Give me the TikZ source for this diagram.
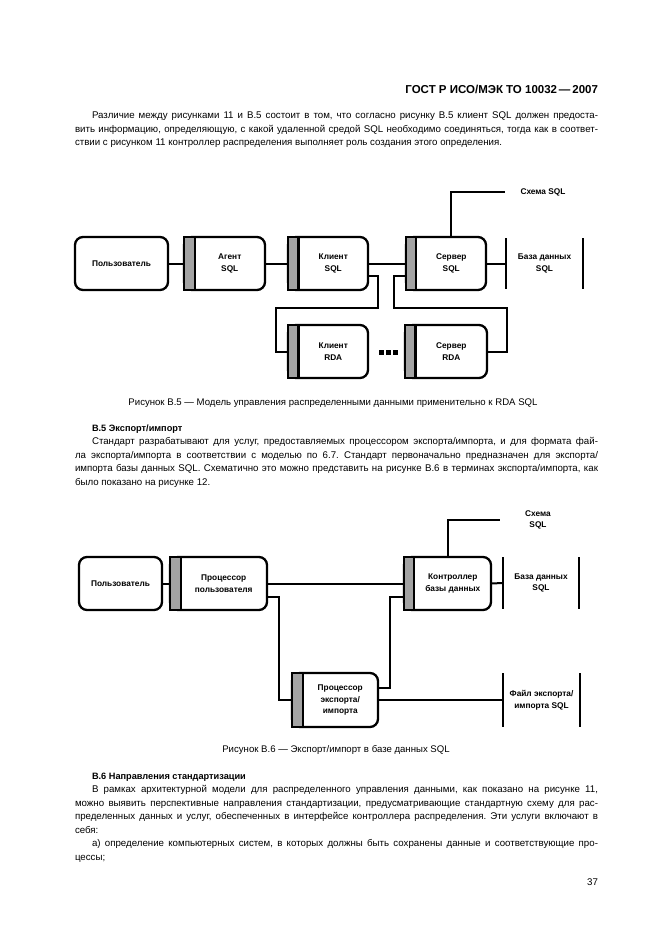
\documentclass[tikz,border=0pt]{standalone}
\usepackage{fontspec}
\setmainfont{Liberation Sans}
\frenchspacing
\definecolor{barg}{gray}{0.64}
\newcommand\pd{\hspace*{10.5pt}}
\newcommand\mkbar[2]{\draw[bar] (#1.north west) rectangle ([xshift=#2pt]#1.south west);}
\newcommand\jl[3]{\node[body] at (#1,#2) {\makebox[\dimexpr598pt-#1pt\relax][s]{#3}};}
\newcommand\pl[3]{\node[body] at (#1,#2) {#3};}
\begin{document}
\begin{tikzpicture}[x=1pt,y=-1pt,
  every node/.style={inner sep=0pt,outer sep=0pt},
  body/.style={anchor=base west,font=\fontsize{9.7}{12}\selectfont},
  captext/.style={anchor=base,font=\fontsize{9.6}{12}\selectfont},
  head/.style={anchor=base west,font=\fontsize{9.2}{12}\selectfont\bfseries},
  lbl/.style={font=\fontsize{8.3}{11.8}\selectfont\bfseries,align=center},
  rbox/.style={lbl,draw,line width=2.3pt,rounded corners=8pt,anchor=north west},
  bar/.style={fill=barg,draw,line width=2.3pt},
  conn/.style={line width=2pt},
  store/.style={lbl,anchor=north west,minimum height=51pt},
  sline/.style={line width=2.3pt},
]
\fill[white] (0,0) rectangle (661,936);
\useasboundingbox (0,0) rectangle (661,936);

% ---- header and first paragraph
\node[anchor=base east,font=\fontsize{11.5}{13}\selectfont\bfseries] (hdr) at (598,94) {ГОСТ Р ИСО/МЭК ТО 10032\,—\,2007};
\jl{92}{119}{Различие между рисунками 11 и В.5 состоит в том, что согласно рисунку В.5 клиент SQL должен предоста-}
\jl{75}{132.5}{вить информацию, определяющую, с какой удаленной средой SQL необходимо соединяться, тогда как в соответ-}
\pl{75}{146}{ствии с рисунком 11 контроллер распределения выполняет роль создания этого определения.}

% ---- Figure B.5
\node[rbox,minimum width=93pt,minimum height=53pt] (user) at (75,237) {Пользователь};
\node[rbox,minimum width=81pt,minimum height=53pt] (agent) at (184,237) {\pd Агент\\\pd SQL};
\node[rbox,minimum width=80pt,minimum height=53pt] (client) at (288,237) {\pd Клиент\\\pd SQL};
\node[rbox,minimum width=80pt,minimum height=53pt] (server) at (406,237) {\pd Сервер\\\pd SQL};
\node[rbox,minimum width=80pt,minimum height=53pt] (crda) at (288,325) {\pd Клиент\\\pd RDA};
\node[rbox,minimum width=82pt,minimum height=53pt] (srda) at (405,325) {\pd Сервер\\\pd RDA};
\mkbar{agent}{11}
\mkbar{client}{10.5}
\mkbar{server}{10}
\mkbar{crda}{10.5}
\mkbar{srda}{10.5}
\node[store,minimum width=77pt] (db) at (506,238) {База данных\\SQL};
\draw[sline] (db.north west) -- (db.south west) (db.north east) -- (db.south east);
\node[lbl,anchor=west,minimum width=76pt] (schema) at (505,192) {Схема SQL};

\draw[conn] (user.east) -- (agent.west);
\draw[conn] (agent.east) -- (client.west);
\draw[conn] (client.east) -- (server.west);
\draw[conn] (server.east) -- (db.west);
\draw[conn] ([xshift=45pt]server.north west) |- (schema.west);
\draw[conn] ([yshift=-12pt]client.east) -| ([xshift=10pt,yshift=-44pt]client.east)
  -| ([xshift=-12pt]crda.west) -- (crda.west);
\draw[conn] ([yshift=-12pt]server.west) -| ([xshift=-12pt,yshift=-44pt]server.west)
  -| ([xshift=20pt]srda.east) -- (srda.east);
\fill (379,350) rectangle ++(4.5,4.5);
\fill (386,350) rectangle ++(4.5,4.5);
\fill (393,350) rectangle ++(4.5,4.5);

\node[captext] (capA) at (333,405) {Рисунок В.5 — Модель управления распределенными данными применительно к RDA SQL};

% ---- Section B.5
\node[head] (hA) at (92,431) {В.5 Экспорт/импорт};
\jl{92}{444.5}{Стандарт разрабатывают для услуг, предоставляемых процессором экспорта/импорта, и для формата фай-}
\jl{75}{458}{ла экспорта/импорта в соответствии с моделью по 6.7. Стандарт первоначально предназначен для экспорта/}
\jl{75}{471.5}{импорта базы данных SQL. Схематично это можно представить на рисунке В.6 в терминах экспорта/импорта, как}
\pl{75}{485}{было показано на рисунке 12.}

% ---- Figure B.6
\node[rbox,minimum width=83pt,minimum height=53pt] (user2) at (79,557) {Пользователь};
\node[rbox,minimum width=97pt,minimum height=53pt] (uproc) at (170,557) {\pd Процессор\\\pd пользователя};
\node[rbox,minimum width=87pt,minimum height=53pt] (ctrl) at (404,557) {\pd Контроллер\\\pd базы данных};
\node[rbox,minimum width=86pt,minimum height=54pt] (eproc) at (292,673) {\pd Процессор\\\pd экспорта/\\\pd импорта};
\mkbar{uproc}{11}
\mkbar{ctrl}{10}
\mkbar{eproc}{11}
\node[store,minimum width=76pt,minimum height=52pt] (db2) at (503,557) {База данных\\SQL};
\draw[sline] (db2.north west) -- (db2.south west) (db2.north east) -- (db2.south east);
\node[store,minimum width=77pt,minimum height=54pt] (file) at (503,673) {Файл экспорта/\\импорта SQL};
\draw[sline] (file.north west) -- (file.south west) (file.north east) -- (file.south east);
\node[lbl,anchor=west,minimum width=76pt] (schema2) at (500,520) {Схема\\SQL};

\draw[conn] (user2.east) -- (uproc.west);
\draw[conn] (uproc.east) -- (ctrl.west);
\draw[conn] (ctrl.east) -- (db2.west);
\draw[conn] (eproc.east) -- (file.west);
\draw[conn] ([xshift=44pt]ctrl.north west) |- (schema2.west);
\draw[conn] ([yshift=-13pt]uproc.east) -| ([xshift=-13pt]eproc.west) -- (eproc.west);
\draw[conn] ([yshift=-13pt]ctrl.west) -| ([xshift=12pt,yshift=12pt]eproc.east) -- ([yshift=12pt]eproc.east);

\node[captext] (capB) at (336,752) {Рисунок В.6 — Экспорт/импорт в базе данных SQL};

% ---- Section B.6
\node[head] (hB) at (92,779) {В.6 Направления стандартизации};
\jl{92}{792.5}{В рамках архитектурной модели для распределенного управления данными, как показано на рисунке 11,}
\jl{75}{806}{можно выявить перспективные направления стандартизации, предусматривающие стандартную схему для рас-}
\jl{75}{819.5}{пределенных данных и услуг, обеспеченных в интерфейсе контроллера распределения. Эти услуги включают в}
\pl{75}{833}{себя:}
\jl{92}{846.5}{а) определение компьютерных систем, в которых должны быть сохранены данные и соответствующие про-}
\pl{75}{860}{цессы;}

\node[anchor=base east,font=\fontsize{9.7}{12}\selectfont] (pnum) at (598,885) {37};
\end{tikzpicture}
\end{document}
